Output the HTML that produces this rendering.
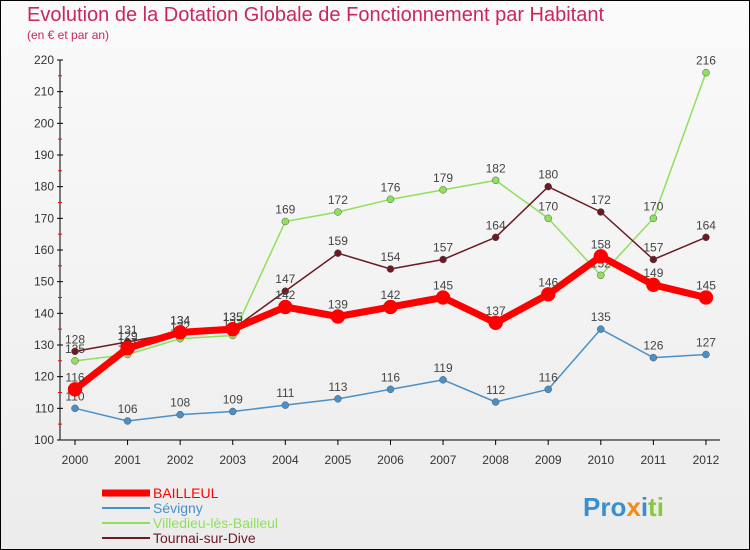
<!DOCTYPE html>
<html><head><meta charset="utf-8"><style>
body{margin:0;background:#fff}
svg{display:block;font-family:"Liberation Sans",sans-serif}
</style></head><body>
<svg id="c" width="750" height="550">
<defs><linearGradient id="bg" x1="0" y1="0" x2="0" y2="1"><stop offset="0" stop-color="#fafafa"/><stop offset="1" stop-color="#ececec"/></linearGradient></defs>
<rect x="0.5" y="0.5" width="749" height="549" fill="url(#bg)" stroke="#000"/>
<text x="27" y="21" font-size="20" fill="#c8285a">Evolution de la Dotation Globale de Fonctionnement par Habitant</text>
<text x="27" y="39" font-size="12" fill="#c8285a">(en € et par an)</text>
<g id="axes"></g><g id="series"></g><g id="legend"></g>
<text x="583" y="516" font-size="26" font-weight="bold" fill="#3a8fd0">Pro<tspan fill="#f28a1a">x</tspan><tspan fill="#3a8fd0">i</tspan><tspan fill="#8cc63f">ti</tspan></text>
</svg>
<script>
const years=["2000","2001","2002","2003","2004","2005","2006","2007","2008","2009","2010","2011","2012"];
const yTicks=[100,110,120,130,140,150,160,170,180,190,200,210,220];
const bailleul=[116,129,134,135,142,139,142,145,137,146,158,149,145];
const sevigny=[110,106,108,109,111,113,116,119,112,116,135,126,127];
const villedieu=[125,127,132,133,169,172,176,179,182,170,152,170,216];
const tournai=[128,131,134,135,147,159,154,157,164,180,172,157,164];
const NS="http://www.w3.org/2000/svg";
const X=i=>75+i*52.58, Y=v=>440-(v-100)*3.1667;
function mk(t,a,p){const e=document.createElementNS(NS,t);for(const k in a)e.setAttribute(k,a[k]);p.appendChild(e);return e;}
const ax=document.getElementById('axes');
let l=mk('line',{x1:60,y1:60,x2:60,y2:440,stroke:'#000'},ax);

l=mk('line',{x1:60,y1:440,x2:720,y2:440,stroke:'#000'},ax);

yTicks.forEach(v=>{const y=Y(v);mk('line',{x1:57,y1:y,x2:63,y2:y,stroke:'#000'},ax);
if(v>100)mk('line',{x1:58,y1:y+15.8,x2:62,y2:y+15.8,stroke:'#f00'},ax);
const t=mk('text',{x:54,y:y+4,'font-size':12,'text-anchor':'end',fill:'#333'},ax);t.textContent=v;
});
years.forEach((yr,i)=>{const x=X(i);mk('line',{x1:x,y1:440,x2:x,y2:445,stroke:'#000'},ax);
const t=mk('text',{x:x,y:464,'font-size':12,'text-anchor':'middle',fill:'#333'},ax);t.textContent=yr;
});
const S=document.getElementById('series');
const defs=[["sevigny",sevigny,"#4a90c8",1.5,3.5],["villedieu",villedieu,"#8fe05a",1.5,3.5],["tournai",tournai,"#6b1a22",1.5,3.5],["bailleul",bailleul,"#f00",7,7]];
defs.forEach(([n,d,c,w,r])=>{const g=mk('g',{},S);
const p=mk('polyline',{points:d.map((v,i)=>X(i)+','+Y(v)).join(' '),fill:'none',stroke:c,'stroke-width':w,'stroke-linejoin':'round'},g);

d.forEach((v,i)=>{const m=mk('circle',{cx:X(i),cy:Y(v),r:r,fill:c,stroke:w>3?'#f00':'#555','stroke-width':0.5},g);

const t=mk('text',{x:X(i),y:Y(v)-8,'font-size':12,'text-anchor':'middle',fill:'#444'},g);t.textContent=v;
});});
const L=document.getElementById('legend');
[["BAILLEUL","#f00",7],["Sévigny","#4a90c8",2],["Villedieu-lès-Bailleul","#8fe05a",2],["Tournai-sur-Dive","#6b1a22",2]].forEach(([n,c,w],i)=>{const y=493+i*15;
const g=mk('g',{},L);
mk('line',{x1:102,y1:y,x2:150,y2:y,stroke:c,'stroke-width':w},g);
const t=mk('text',{x:153,y:y+5,'font-size':14,fill:c},g);t.textContent=n;});
</script>
</body></html>
